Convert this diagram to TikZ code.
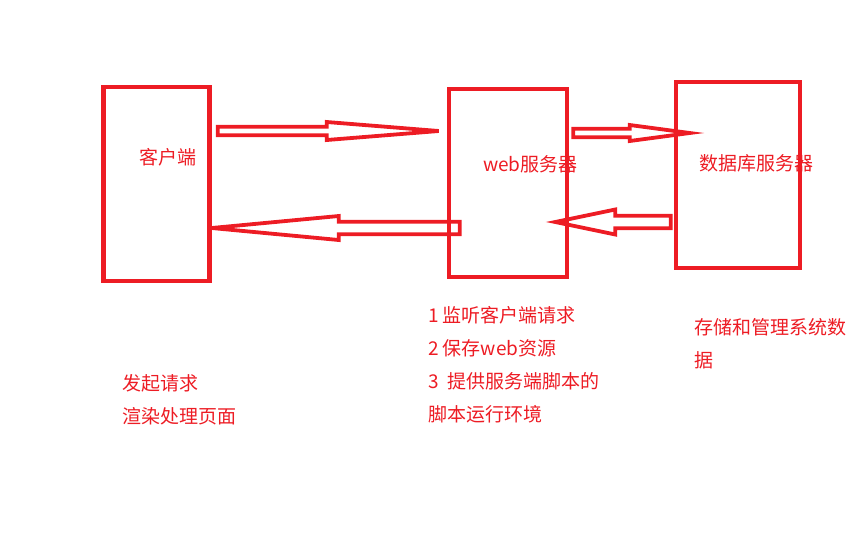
\documentclass[tikz,border=0pt]{standalone}
\usepackage{fontspec}
\setmainfont{Noto Sans CJK SC}
\usepackage{tikz}
\usetikzlibrary{calc}
\usetikzlibrary{positioning}
\definecolor{PaintRed}{RGB}{237,28,36}
\tikzset{
	box/.style={draw=PaintRed, line width=4.5pt, inner sep=0pt},
	arrowline/.style={draw=PaintRed, line width=3.8pt},
	lbl/.style={text=PaintRed, font=\fontsize{19}{33}\selectfont, inner sep=0pt, anchor=west},
	note/.style={lbl, align=left, anchor=north west},
}
% #1 tail, #2 tip, #3 half shaft, #4 half head, #5 head length
\newcommand{\hollowArrow}[5]{%
		\coordinate (s) at #1;
		\coordinate (e) at #2;
		\coordinate (hb) at ($(e)!#5!(s)$);
		\draw [arrowline] ($(s)!#3!90:(e)$) -- ($(hb)!#3!90:(e)$)
								-- ($(hb)!#4!90:(e)$)
								-- (e)
								-- ($(hb)!#4!-90:(e)$)
								-- ($(hb)!#3!-90:(e)$)
								-- ($(s)!#3!-90:(e)$)
								-- cycle;
}

\begin{document}
\begin{tikzpicture}[x=1pt, y=-1pt]
	\useasboundingbox (0,0) rectangle (856,558);

		\node [box, minimum width=106pt, minimum height=194pt] (client) at (156.5,184) {};
		\node [box, minimum width=118pt, minimum height=188pt] (web) at (508,183) {};
		\node [box, minimum width=124pt, minimum height=186pt] (db) at (738,175) {};

		\hollowArrow{($(client.east)+(6,-53)$)}{($(web.west)+(-8,-52)$)}{4.3pt}{9pt}{112pt} %request
		\hollowArrow{($(web.west)+(13,45)$)}{($(client.east)+(0,44)$)}{6.2pt}{12pt}{127pt} %response
		\hollowArrow{($(web.east)+(4,-50)$)}{($(db.west)+(16,-42)$)}{4.2pt}{8pt}{60pt} %query
		\hollowArrow{($(db.west)+(-3,47)$)}{($(web.east)+(-14,39)$)}{6.3pt}{12.5pt}{60pt} %result

		\node [lbl] (clientname) at (139,157) {客户端};
		\node [lbl] (webname) at (483,164) {web服务器};
		\node [lbl] (dbname) at (699,163) {数据库服务器};

		\node [note] (clientnote) at (122,374.5) {发起请求\\渲染处理页面};
		\node [note] (webnote) at (428,306.5) {1 监听客户端请求\\2 保存web资源\\3 \ 提供服务端脚本的\\脚本运行环境};
		\node [note] (dbnote) at (694,318.5) {存储和管理系统数\\据};
	\end{tikzpicture}
\end{document}
